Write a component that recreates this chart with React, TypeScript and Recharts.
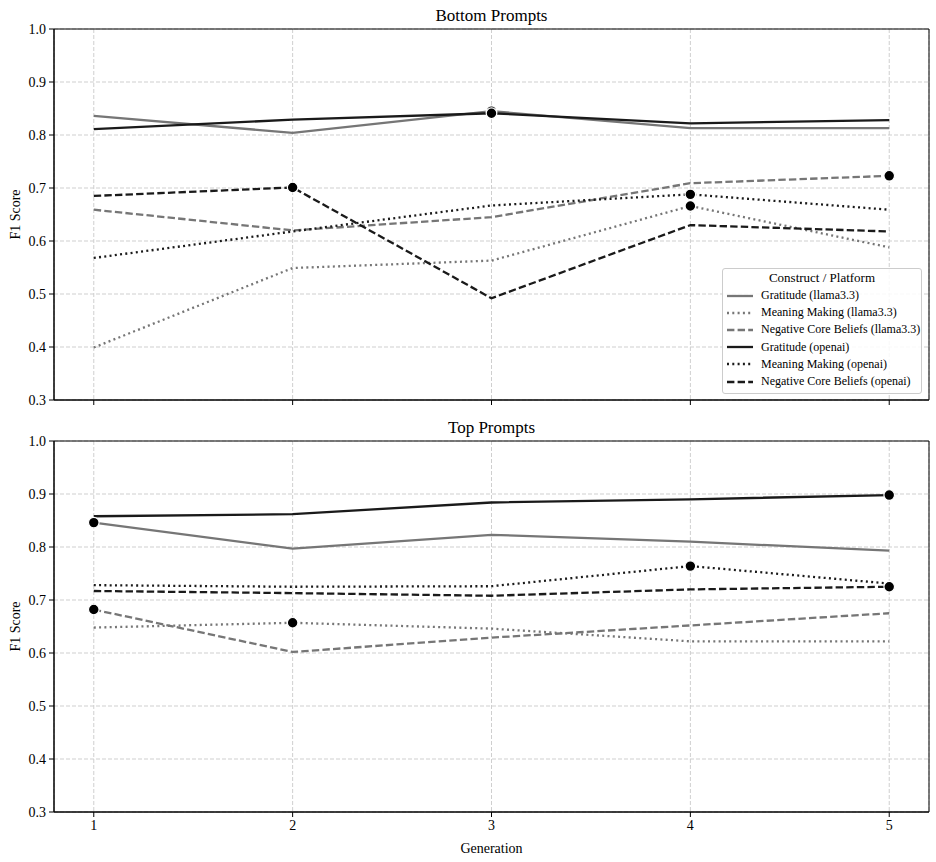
import React from "react"
import { CartesianGrid, Line, LineChart, ReferenceArea, XAxis, YAxis } from "recharts"

const FONT = "'Liberation Serif', 'DejaVu Serif', serif"
const GRAY = "#767676"
const BLACK = "#1a1a1a"

const generations = [1, 2, 3, 4, 5]
const yTicks = [0.3, 0.4, 0.5, 0.6, 0.7, 0.8, 0.9, 1.0]

// "Bottom Prompts" panel
const bottomGratitudeLlama = [0.836, 0.804, 0.845, 0.813, 0.813]
const bottomMeaningLlama = [0.399, 0.549, 0.563, 0.666, 0.588]
const bottomNegativeLlama = [0.659, 0.620, 0.645, 0.709, 0.723]
const bottomGratitudeOpenai = [0.811, 0.829, 0.841, 0.822, 0.828]
const bottomMeaningOpenai = [0.568, 0.618, 0.667, 0.688, 0.659]
const bottomNegativeOpenai = [0.685, 0.701, 0.492, 0.630, 0.618]

// "Top Prompts" panel
const topGratitudeLlama = [0.846, 0.797, 0.823, 0.810, 0.793]
const topMeaningLlama = [0.648, 0.657, 0.646, 0.622, 0.622]
const topNegativeLlama = [0.682, 0.602, 0.629, 0.652, 0.675]
const topGratitudeOpenai = [0.858, 0.862, 0.884, 0.890, 0.898]
const topMeaningOpenai = [0.728, 0.725, 0.726, 0.764, 0.731]
const topNegativeOpenai = [0.717, 0.713, 0.708, 0.720, 0.725]

const series = [
    { key: "gratLlama", name: "Gratitude (llama3.3)", color: GRAY, dash: undefined },
    { key: "meanLlama", name: "Meaning Making (llama3.3)", color: GRAY, dash: "2 3.3" },
    { key: "negLlama", name: "Negative Core Beliefs (llama3.3)", color: GRAY, dash: "7.4 3.2" },
    { key: "gratOpenai", name: "Gratitude (openai)", color: BLACK, dash: undefined },
    { key: "meanOpenai", name: "Meaning Making (openai)", color: BLACK, dash: "2 3.3" },
    { key: "negOpenai", name: "Negative Core Beliefs (openai)", color: BLACK, dash: "7.4 3.2" },
]

function buildRows(cols: number[][]) {
    return generations.map((g, i) => {
        const row: any = { gen: g }
        series.forEach((s, j) => { row[s.key] = cols[j][i] })
        return row
    })
}

const bottomRows = buildRows([bottomGratitudeLlama, bottomMeaningLlama, bottomNegativeLlama, bottomGratitudeOpenai, bottomMeaningOpenai, bottomNegativeOpenai])
const topRows = buildRows([topGratitudeLlama, topMeaningLlama, topNegativeLlama, topGratitudeOpenai, topMeaningOpenai, topNegativeOpenai])

function peakIndex(rows: any[], key: string) {
    let best = 0
    rows.forEach((r, i) => { if (r[key] > rows[best][key]) best = i })
    return best
}

const labelStyle = { fontSize: 14, fontFamily: FONT, fill: "#000" }

function Panel({ rows, height, margin, showXLabels }: { rows: any[], height: number, margin: any, showXLabels: boolean }) {
    return (
        <LineChart width={936} height={height} data={rows} margin={margin}>
            <CartesianGrid stroke="#cfcfcf" strokeDasharray="4 2" />
            <XAxis
                dataKey="gen"
                type="number"
                domain={[0.8, 5.2]}
                ticks={generations}
                tickSize={5}
                tickMargin={3}
                height={showXLabels ? 44 : 12}
                stroke="#000"
                tick={{ fill: "#000", fontSize: 14, fontFamily: FONT }}
                tickFormatter={(v) => (showXLabels ? String(v) : "")}
                label={showXLabels ? { value: "Generation", position: "insideBottom", offset: 3, style: labelStyle } : undefined}
            />
            <YAxis
                type="number"
                domain={[0.3, 1.0]}
                ticks={yTicks}
                width={54}
                tickSize={5}
                tickMargin={3}
                stroke="#000"
                tick={{ fill: "#000", fontSize: 14, fontFamily: FONT }}
                tickFormatter={(v) => v.toFixed(1)}
                label={{ value: "F1 Score", angle: -90, position: "insideLeft", offset: 15, style: { ...labelStyle, textAnchor: "middle" } }}
            />
            <ReferenceArea x1={0.8} x2={5.2} y1={0.3} y2={1.0} fill="none" stroke="#000" strokeWidth={1} />
            {series.map((s) => (
                <Line
                    key={s.key}
                    dataKey={s.key}
                    stroke={s.color}
                    strokeWidth={2.3}
                    strokeDasharray={s.dash}
                    dot={false}
                    activeDot={false}
                    isAnimationActive={false}
                />
            ))}
            {series.map((s) => {
                const peak = peakIndex(rows, s.key)
                return (
                    <Line
                        key={s.key + "-peak"}
                        dataKey={s.key}
                        stroke="none"
                        legendType="none"
                        activeDot={false}
                        isAnimationActive={false}
                        dot={(p: any) =>
                            p.index === peak ? (
                                <circle key={s.key + p.index} cx={p.cx} cy={p.cy} r={5.3} fill="#000" stroke="#fff" strokeWidth={1.2} />
                            ) : (
                                <g key={s.key + p.index} />
                            )
                        }
                    />
                )
            })}
        </LineChart>
    )
}

function LegendBox() {
    return (
        <div style={{
            position: "absolute", left: 722, top: 268, width: 198, height: 124,
            border: "1px solid #cccccc", borderRadius: 3, background: "rgba(255,255,255,0.85)",
            fontFamily: FONT, color: "#000",
        }}>
            <div style={{ textAlign: "center", fontSize: 13, lineHeight: "18px", height: 18 }}>Construct / Platform</div>
            {series.map((s) => (
                <div key={s.key} style={{ display: "flex", alignItems: "center", height: 17.2, fontSize: 12 }}>
                    <svg width={26} height={10} style={{ marginLeft: 4, marginRight: 8 }}>
                        <line x1={0} y1={5} x2={26} y2={5} stroke={s.color} strokeWidth={2.3} strokeDasharray={s.dash} />
                    </svg>
                    <span>{s.name}</span>
                </div>
            ))}
        </div>
    )
}

export default function App() {
    const titleStyle: React.CSSProperties = {
        position: "absolute", left: 54, width: 875, textAlign: "center",
        fontFamily: FONT, fontSize: 17, lineHeight: "20px", color: "#000",
    }
    return (
        <div style={{ position: "absolute", left: 0, top: 0, width: 936, height: 862, background: "#fff" }}>
            <div style={{ position: "absolute", left: 0, top: 0 }}>
                <Panel rows={bottomRows} height={420} margin={{ top: 29, right: 7, bottom: 8, left: 0 }} showXLabels={false} />
            </div>
            <div style={{ position: "absolute", left: 0, top: 420 }}>
                <Panel rows={topRows} height={442} margin={{ top: 21, right: 7, bottom: 6, left: 0 }} showXLabels={true} />
            </div>
            <div style={{ ...titleStyle, top: 6 }}>Bottom Prompts</div>
            <div style={{ ...titleStyle, top: 418 }}>Top Prompts</div>
            <LegendBox />
        </div>
    )
}
